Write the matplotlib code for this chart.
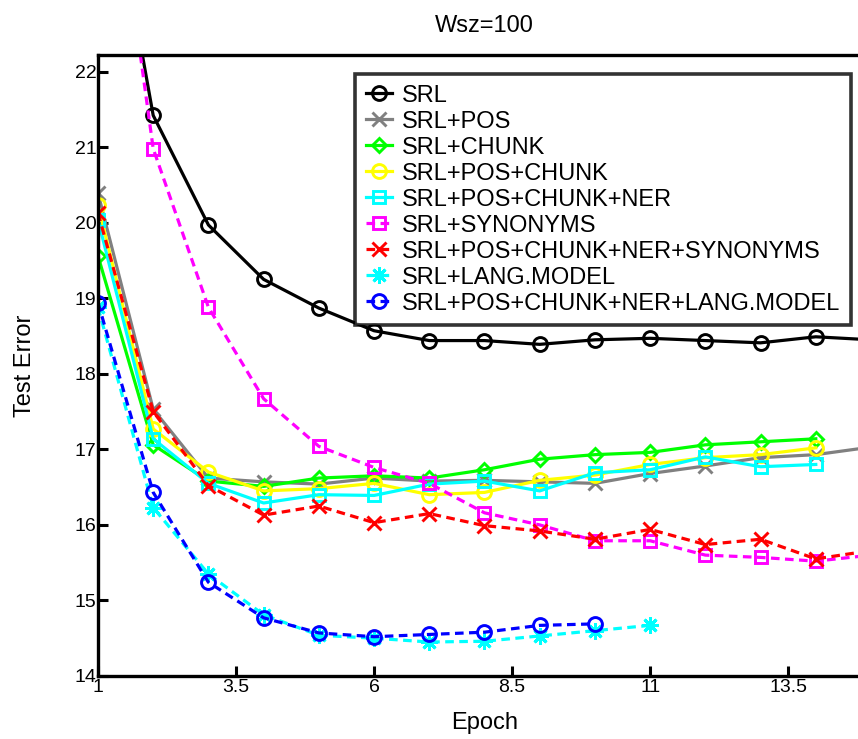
import matplotlib
matplotlib.use("Agg")
import matplotlib.pyplot as plt

plt.rcParams['font.family'] = ['Liberation Sans', 'DejaVu Sans']

epochs = list(range(1, 16))

srl = [25.5, 21.42, 19.97, 19.25, 18.87, 18.57, 18.44, 18.44, 18.39, 18.45, 18.47, 18.44, 18.41, 18.49, 18.45]
srl_pos = [20.39, 17.53, 16.62, 16.57, 16.54, 16.62, 16.58, 16.59, 16.57, 16.55, 16.68, 16.78, 16.89, 16.93, 17.03]
srl_chunk = [19.56, 17.06, 16.58, 16.51, 16.62, 16.65, 16.62, 16.73, 16.87, 16.93, 16.96, 17.06, 17.10, 17.14]
srl_pos_chunk = [20.23, 17.27, 16.70, 16.45, 16.48, 16.55, 16.40, 16.43, 16.59, 16.66, 16.80, 16.89, 16.93, 17.02]
srl_pos_chunk_ner = [20.04, 17.14, 16.55, 16.29, 16.40, 16.39, 16.54, 16.58, 16.45, 16.69, 16.73, 16.90, 16.77, 16.80]
srl_syn = [26.3, 20.98, 18.88, 17.67, 17.04, 16.76, 16.55, 16.16, 16.00, 15.79, 15.79, 15.60, 15.57, 15.52, 15.60]
srl_all_syn = [20.13, 17.50, 16.52, 16.13, 16.25, 16.03, 16.15, 15.99, 15.92, 15.81, 15.94, 15.74, 15.81, 15.55, 15.66]
srl_lm = [18.88, 16.23, 15.35, 14.81, 14.54, 14.50, 14.45, 14.46, 14.53, 14.60, 14.67]
srl_all_lm = [18.94, 16.43, 15.24, 14.77, 14.57, 14.52, 14.55, 14.58, 14.67, 14.69]

labels = ["SRL", "SRL+POS", "SRL+CHUNK", "SRL+POS+CHUNK", "SRL+POS+CHUNK+NER",
          "SRL+SYNONYMS", "SRL+POS+CHUNK+NER+SYNONYMS", "SRL+LANG.MODEL",
          "SRL+POS+CHUNK+NER+LANG.MODEL"]
xticks = [1, 3.5, 6, 8.5, 11, 13.5]
yticks = [14, 15, 16, 17, 18, 19, 20, 21, 22]

fig = plt.figure(figsize=(8.58, 7.39), dpi=100)
W, H = 858, 739
ax = fig.add_axes([98 / W, (H - 676) / H, 773 / W, 621 / H])

lw = 2.3
dash = (0, (2.7, 1.7))
series = [
    (srl, 'black', '-', 'o', 10),
    (srl_pos, '#808080', '-', 'x', 9.5),
    (srl_chunk, '#00ff00', '-', 'D', 7.5),
    (srl_pos_chunk, '#ffff00', '-', 'o', 10),
    (srl_pos_chunk_ner, '#00ffff', '-', 's', 8),
    (srl_syn, '#ff00ff', dash, 's', 8),
    (srl_all_syn, '#ff0000', dash, 'x', 9.5),
    (srl_lm, '#00ffff', dash, (8, 2, 0), 12),
    (srl_all_lm, '#0000ff', dash, 'o', 10),
]
for (vals, c, ls, m, ms), lab in zip(series, labels):
    ax.plot(epochs[:len(vals)], vals, color=c, linestyle=ls, linewidth=lw,
            marker=m, markersize=ms, markerfacecolor='none',
            markeredgecolor=c, markeredgewidth=2.1, label=lab)

ax.set_xlim(1, 15)
ax.set_ylim(14, 22.22)
ax.set_xticks(xticks)
ax.set_xticklabels(['1', '3.5', '6', '8.5', '11', '13.5'])
ax.set_yticks(yticks)
ax.tick_params(direction='in', length=7, width=2.2, labelsize=14)
ax.tick_params(axis='y', pad=1)
ax.tick_params(axis='x', pad=2)
for s in ['left', 'bottom', 'top']:
    ax.spines[s].set_linewidth(2.4)
ax.spines['right'].set_visible(False)

ax.set_title('Wsz=100', fontsize=17, pad=16.5)
ax.set_xlabel('Epoch', fontsize=17)
ax.set_ylabel('Test Error', fontsize=17)
ax.xaxis.set_label_coords(0.5, -(712 - 676) / 621)
ax.yaxis.set_label_coords(-(98 - 36) / 773, 0.5)

leg = fig.legend(loc='upper right', bbox_to_anchor=(851 / W, 1 - 74 / H),
                 fontsize=17, labelspacing=0.17, handlelength=1.1,
                 handletextpad=0.42, borderpad=0.45, borderaxespad=0,
                 frameon=True, fancybox=False, numpoints=1)
leg.get_frame().set_edgecolor('black')
leg.get_frame().set_linewidth(2.6)

fig.savefig('out.png', dpi=100)
